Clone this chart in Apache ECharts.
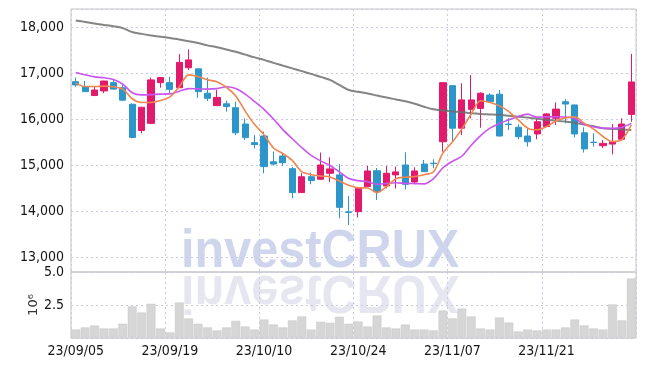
<!DOCTYPE html>
<html>
<head>
<meta charset="utf-8">
<script src="https://cdn.jsdelivr.net/npm/echarts@6/dist/echarts.min.js"></script>
<style>
  html, body { margin: 0; padding: 0; background: #fff; }
  #main { width: 645px; height: 366px; }
</style>
</head>
<body>
<div id="main"></div>
<script>
var dates = [
    '23/09/05','23/09/06','23/09/07','23/09/08','23/09/11','23/09/12','23/09/13','23/09/14','23/09/15','23/09/18',
    '23/09/19','23/09/20','23/09/21','23/09/22','23/09/25','23/09/26','23/09/27','23/10/04','23/10/05','23/10/06',
    '23/10/10','23/10/11','23/10/12','23/10/13','23/10/16','23/10/17','23/10/18','23/10/19','23/10/20','23/10/23',
    '23/10/24','23/10/25','23/10/26','23/10/27','23/10/30','23/10/31','23/11/01','23/11/02','23/11/03','23/11/06',
    '23/11/07','23/11/08','23/11/09','23/11/10','23/11/13','23/11/14','23/11/15','23/11/16','23/11/17','23/11/20',
    '23/11/21','23/11/22','23/11/23','23/11/24','23/11/27','23/11/28','23/11/29','23/11/30','23/12/01','23/12/04'
];
// open, close, low, high
var ohlc = [
    [16810,16740,16700,16900],[16700,16595,16590,16830],[16510,16630,16500,16700],[16610,16825,16560,16830],
    [16790,16650,16640,16870],[16680,16410,16400,16740],[16320,15600,15580,16340],[15750,16255,15690,16260],
    [15905,16850,15890,16900],[16790,16900,16680,16910],[16790,16645,16560,16920],[16680,17230,16670,17410],
    [17115,17285,17065,17515],[17090,16595,16460,17100],[16560,16450,16390,16900],[16290,16470,16285,16630],
    [16330,16270,16160,16400],[16245,15700,15650,16375],[15890,15595,15545,16015],[15485,15445,15360,15650],
    [15630,14965,14820,15725],[15070,15020,14990,15290],[15195,15050,14980,15255],[14920,14400,14275,14960],
    [14400,14745,14395,14820],[14745,14660,14580,14835],[14690,15000,14680,15270],[14820,14915,14625,15165],
    [14785,14080,13840,15020],[13980,13970,13695,14325],[13985,14495,13860,14500],[14530,14870,14525,14980],
    [14875,14420,14240,14935],[14545,14820,14490,14980],[14785,14850,14490,14965],[15000,14580,14470,15275],
    [14630,14870,14585,14950],[15020,14855,14850,15110],[15040,15030,14930,15125],[15505,16790,15290,16795],
    [16725,15800,15505,16730],[15800,16415,15650,16775],[16210,16415,16015,16955],[16230,16560,15810,16580],
    [16520,16375,16370,16560],[16540,15630,15620,16630],[15890,15880,15760,16015],[15820,15615,15560,15885],
    [15630,15505,15400,15800],[15675,15940,15560,15995],[15835,16110,15830,16130],[16015,16215,15870,16360],
    [16375,16325,15905,16430],[16305,15675,15600,16310],[15700,15350,15270,15820],[15495,15490,15400,15690],
    [15420,15470,15370,15540],[15455,15505,15230,15890],[15560,15890,15555,16015],[16100,16805,15940,17415]
];
var maShort = [
    16780,16705,16705,16715,16700,16650,16440,16360,16360,16400,
    16480,16700,16960,16925,16850,16810,16690,16500,16170,15880,
    15660,15370,15250,15100,14855,14790,14760,14740,14650,14560,
    14505,14500,14400,14530,14700,14735,14750,14790,14855,15260,
    15500,15780,16110,16395,16360,16285,16160,15980,15800,15765,
    15835,15955,16020,16045,15910,15780,15620,15510,15550,15870
];
var maMid = [
    17010,16960,16915,16895,16860,16760,16570,16525,16530,16540,
    16545,16605,16660,16655,16650,16660,16700,16665,16540,16380,
    16210,16000,15770,15570,15380,15210,15090,14990,14850,14705,
    14660,14635,14580,14600,14615,14600,14595,14590,14705,14940,
    15080,15190,15430,15640,15800,15900,15985,16055,16105,16040,
    16045,16050,16045,16010,15880,15830,15800,15795,15820,15905
];
var maLong = [
    18140,18110,18075,18045,18015,17975,17890,17850,17815,17790,
    17760,17730,17690,17650,17600,17560,17510,17460,17400,17340,
    17285,17220,17160,17100,17040,16980,16915,16850,16740,16630,
    16590,16555,16510,16465,16425,16385,16330,16265,16210,16185,
    16165,16145,16125,16110,16100,16090,16070,16050,16030,16005,
    15985,15965,15945,15920,15880,15840,15800,15785,15770,15760
];
// volume, millions
var volume = [
    0.64,0.80,0.95,0.72,0.72,1.08,2.39,1.93,2.59,0.72,
    0.42,2.69,1.48,1.08,0.80,0.57,0.80,1.30,0.87,0.64,
    1.40,1.02,0.80,1.33,1.63,0.64,1.23,1.15,1.61,1.08,
    1.25,0.87,1.70,0.80,0.72,1.02,0.64,0.64,0.57,2.08,
    1.48,2.23,1.63,0.72,0.64,1.55,1.17,0.49,0.64,0.57,
    0.64,0.64,0.80,1.40,0.95,0.72,0.64,2.54,1.33,4.51
];

// condensed face of DejaVu, asked for through the font shorthand
var labelFont = "'DejaVu Sans', sans-serif";
var labelStyle = { color: '#151515', fontFamily: labelFont, fontStyle: 'condensed', fontSize: 14 };
var gridDot = { color: '#c9c9e0', type: [2, 3], width: 1 };

var myChart = echarts.init(document.getElementById('main'));
var option = {
    animation: false,
    backgroundColor: '#fff',
    graphic: [
        {
            type: 'text', x: 181, y: 252, scaleX: 0.9, z: 0,
            style: {
                text: 'investCRUX', font: 'bold 54px "Liberation Sans", Arial, sans-serif',
                fill: 'rgba(190,199,230,0.75)', align: 'left', verticalAlign: 'middle'
            }
        },
        {
            type: 'text', x: 181, y: 291, scaleX: 0.9, scaleY: -1, z: 0,
            style: {
                text: 'investCRUX', font: 'bold 54px "Liberation Sans", Arial, sans-serif',
                fill: 'rgba(220,220,234,0.7)', align: 'left', verticalAlign: 'middle'
            }
        }
    ],
    grid: [
        { left: 71, right: 9, top: 9, height: 263, show: true, borderColor: '#c4c4c4', borderWidth: 1 },
        { left: 71, right: 9, top: 272, height: 66, show: true, borderColor: '#c4c4c4', borderWidth: 1 }
    ],
    xAxis: [
        {
            type: 'category', gridIndex: 0, data: dates, boundaryGap: true,
            axisLine: { show: false }, axisTick: { show: false }, axisLabel: { show: false },
            splitLine: { show: true, interval: 9, lineStyle: gridDot }
        },
        {
            type: 'category', gridIndex: 1, data: dates, boundaryGap: true,
            axisLine: { show: false }, axisTick: { show: false },
            axisLabel: Object.assign({ interval: 9, margin: 6 }, labelStyle),
            splitLine: { show: true, interval: 9, lineStyle: gridDot }
        }
    ],
    yAxis: [
        {
            type: 'value', gridIndex: 0, min: 12674, max: 18391, splitNumber: 6,
            axisLine: { show: false }, axisTick: { show: false },
            axisLabel: Object.assign({
                showMinLabel: false, showMaxLabel: false, margin: 7,
                formatter: function (v) { return v.toLocaleString('en-US'); }
            }, labelStyle),
            splitLine: { show: true, lineStyle: gridDot }
        },
        {
            type: 'value', gridIndex: 1, min: 0, max: 5, interval: 2.5,
            name: '10\u2076', nameLocation: 'middle', nameGap: 31, nameRotate: 90,
            nameMoveOverlap: false,
            nameTextStyle: { color: '#333', fontFamily: labelFont, fontSize: 13 },
            axisLine: { show: false }, axisTick: { show: false },
            axisLabel: Object.assign({
                showMinLabel: false, margin: 7,
                formatter: function (v) { return v.toFixed(1); }
            }, labelStyle),
            splitLine: { show: true, lineStyle: gridDot }
        }
    ],
    series: [
        {
            type: 'candlestick', xAxisIndex: 0, yAxisIndex: 0, data: ohlc, barWidth: '70%', z: 3,
            itemStyle: {
                color: '#e3196b', color0: '#2c95c9',
                borderColor: '#e3196b', borderColor0: '#2c95c9', borderWidth: 1
            }
        },
        {
            type: 'line', xAxisIndex: 0, yAxisIndex: 0, data: maLong, symbol: 'none', smooth: 0.3, z: 4,
            lineStyle: { color: 'rgba(110,110,110,0.85)', width: 2 }
        },
        {
            type: 'line', xAxisIndex: 0, yAxisIndex: 0, data: maMid, symbol: 'none', smooth: 0.3, z: 4,
            lineStyle: { color: '#c955ef', width: 1.6 }
        },
        {
            type: 'line', xAxisIndex: 0, yAxisIndex: 0, data: maShort, symbol: 'none', smooth: 0.3, z: 4,
            lineStyle: { color: '#ee8650', width: 1.6 }
        },
        {
            type: 'bar', xAxisIndex: 1, yAxisIndex: 1, data: volume, barCategoryGap: '6%', z: 3,
            itemStyle: { color: '#d6d6d6', borderColor: '#c6c6c6', borderWidth: 0.5 }
        }
    ]
};
myChart.setOption(option);
</script>
</body>
</html>
